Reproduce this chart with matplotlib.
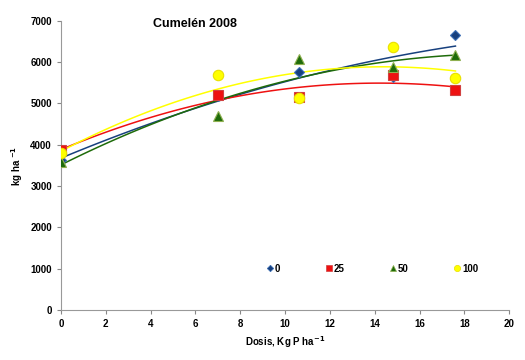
import numpy as np
import matplotlib.pyplot as plt
from matplotlib.lines import Line2D

plt.rcParams['font.family'] = ['Liberation Sans', 'DejaVu Sans']
plt.rcParams['font.weight'] = 'bold'

# P dose, kg P/ha
dosis = [0, 7, 10.6, 14.8, 17.6]

# yield, kg/ha, one series per treatment
y0 = [3620, 5180, 5760, 5640, 6660]
y25 = [3870, 5200, 5150, 5700, 5320]
y50 = [3580, 4700, 6080, 5880, 6170]
y100 = [3800, 5700, 5130, 6360, 5620]

labels = ['0', '25', '50', '100']
series = [y0, y25, y50, y100]
colors = ['#17407e', '#ee1111', '#1e6b0a', '#ffff00']
edges = ['#3b6fb6', '#d04040', '#8fb050', '#e8e000']
markers = ['D', 's', '^', 'o']
msizes = [5.5, 7.5, 7.5, 7.5]

fig = plt.figure(figsize=(5.25, 3.6), dpi=100)
ax = fig.add_axes([0.116, 0.139, 0.854, 0.803])

x = np.array(dosis)
xx = np.linspace(0, 17.6, 100)
for ys, c in zip(series, colors):
    # Excel-style 2nd order polynomial trendline
    p = np.polyfit(x, ys, 2)
    ax.plot(xx, np.polyval(p, xx), color=c, lw=1.1, zorder=2)
for ys, c, e, m, ms in zip(series, colors, edges, markers, msizes):
    ax.plot(x, ys, ls='none', marker=m, ms=ms, color=c, mec=e, mew=0.8, zorder=3)

handles = [Line2D([], [], ls='none', marker=m, ms=ms * 0.6, color=c, mec=e, mew=0.5)
           for c, e, m, ms in zip(colors, edges, markers, msizes)]
ax.legend(handles, labels, loc='center left', bbox_to_anchor=(0.44, 0.143),
          ncol=4, frameon=False, handlelength=0.6, handletextpad=0.2,
          columnspacing=4.7, prop={'weight': 'bold', 'size': 7})

ax.set_xlim(0, 20)
ax.set_ylim(0, 7000)
ax.set_xticks(range(0, 21, 2))
ax.set_yticks(range(0, 7001, 1000))
ax.tick_params(labelsize=7, colors='#888888', labelcolor='black', length=3)
for s in ['top', 'right']:
    ax.spines[s].set_visible(False)
for s in ['left', 'bottom']:
    ax.spines[s].set_color('#999999')

ax.set_xlabel('Dosis, Kg P ha$^{\\mathbf{-1}}$', fontsize=7, fontweight='bold')
ax.set_ylabel('kg ha $^{\\mathbf{-1}}$', fontsize=7, fontweight='bold')
ax.text(0.3, 0.99, 'Cumelén 2008', transform=ax.transAxes, ha='center', va='center',
        fontsize=9, fontweight='bold')

fig.savefig('out.png', dpi=100, facecolor='white')
